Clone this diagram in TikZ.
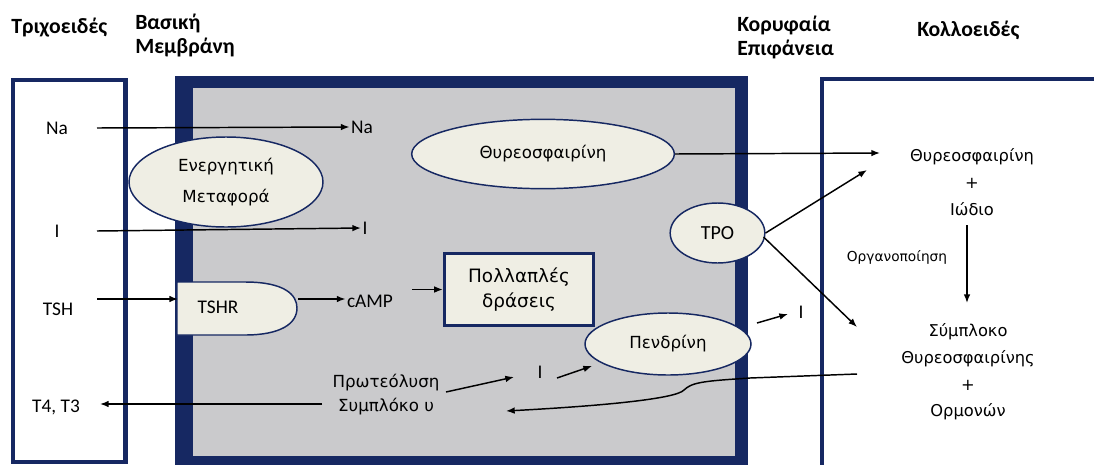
\documentclass[tikz,border=0pt]{standalone}
\usepackage{fontspec}
\setmainfont{Carlito}
\newfontfamily\dv{DejaVu Sans}
\usetikzlibrary{arrows.meta,shapes.geometric}
\definecolor{navy}{RGB}{22,40,98}
\definecolor{cellgray}{RGB}{202,202,204}
\definecolor{ivory}{RGB}{239,238,228}
\begin{document}
\begin{tikzpicture}[x=0.75pt,y=-0.75pt,
  arr/.style={line width=1.1pt,-{Latex[length=6.5pt,width=5pt]}},
  oval/.style={ellipse,draw=navy,line width=1.1pt,fill=ivory,inner sep=0pt,align=center,font=\dv\fontsize{12.5}{23}\selectfont},
  lbl/.style={inner sep=1pt,font=\fontsize{14.5}{17}\selectfont},
  hdr/.style={inner sep=0pt,anchor=west,align=left,font=\bfseries\fontsize{16.3}{18}\selectfont},
  rtxt/.style={inner sep=0pt,align=center,font=\dv\fontsize{12.2}{20}\selectfont},
  mtxt/.style={inner sep=1pt,align=center,font=\dv\fontsize{12.5}{18}\selectfont}]
\useasboundingbox (0,0) rectangle (1094,464);
\clip (0,0) rectangle (1094,464);
% headers
\node[hdr] (h1) at (11,28) {Τριχοειδές};
\node[hdr] (h2) at (135,35) {Βασική\\Μεμβράνη};
\node[hdr] (h3) at (737,37) {Κορυφαία\\Επιφάνεια};
\node[hdr] (h4) at (917,30) {Κολλοειδές};
% boxes
\draw[navy,line width=3.5pt] (13,80) rectangle (125.5,462);
\fill[navy] (175,76) rectangle (748,470);
\fill[cellgray] (193,88) rectangle (735,456);
\draw[navy,line width=3.5pt] (822,79) rectangle (1110,470);
\coordinate (lx) at (97,0);
% left labels
\node[lbl] (na1) at (57,128) {Na};
\node[lbl] (na2) at (362,127) {Na};
\node[lbl] (i1) at (57,231) {I};
\node[lbl] (i2) at (365,228) {I};
\node[lbl] (tsh) at (58,309) {TSH};
\node[lbl] (t43) at (56,407) {T4, T3};
% ellipses
\node[oval,minimum width=145.5pt,minimum height=67.5pt] (ener) at (226,182) {Ενεργητική\\Μεταφορά};
\node[oval,minimum width=197pt,minimum height=52pt] (thyro) at (543,154) {Θυρεοσφαιρίνη};
\node[oval,font=\fontsize{15}{18}\selectfont,minimum width=71pt,minimum height=45pt] (tpo) at (717.5,233) {TPO};
\node[oval,minimum width=124.5pt,minimum height=46.5pt] (pend) at (668,344) {Πενδρίνη};
% TSHR shape
\draw[navy,line width=1.1pt,fill=ivory] (177,282) -- (245,282) .. controls (285,282) and (297,295) .. (297,308) .. controls (297,324) and (280,335) .. (245,335) -- (177,335) -- cycle;
\node[lbl] (tshr) at (218,307) {TSHR};
\coordinate (tshrL) at (178,299);
\coordinate (tshrR) at (298,299);
\node[lbl] (camp) at (370,301) {cAMP};
\coordinate (cx) at (412,0);
\node[draw=navy,line width=2.2pt,fill=ivory,minimum width=112pt,minimum height=54pt,align=center,inner sep=0pt,font=\dv\fontsize{13.8}{19}\selectfont] (multi) at (519,289.5) {Πολλαπλές\\δράσεις};
% arrows middle
\draw[arr] (na1 -| lx) -- (na2.west);
\draw[arr] (i1 -| lx) -- (i2.west);
\draw[arr] (tshrL -| lx) -- (tshrL);
\draw[arr] (tshrR) -- (camp.west |- tshrR);
\draw[arr] (multi.west -| cx) -- (multi.west);
% lower middle
\node[mtxt] (prot) at (386,395) {Πρωτεόλυση\\Συμπλόκο υ};
\node[lbl] (i3) at (540,372) {I};
\node[lbl] (i4) at (801,312) {I};
\coordinate (p1) at (446,392);
\coordinate (p2) at (514,377);
\coordinate (p3) at (557,378);
\coordinate (p4) at (592,366);
\coordinate (p5) at (757,323);
\coordinate (p6) at (788,314);
\coordinate (p7) at (322,404);
\coordinate (p8) at (100,404);
\draw[arr] (p1) -- (p2);
\draw[arr] (p3) -- (p4);
\draw[arr] (p5) -- (p6);
\draw[arr] (p7) -- (p8);
% right side
\node[rtxt] (thyr2) at (972,182) {Θυρεοσφαιρίνη\\+\\Ιώδιο};
\node[rtxt] (compl) at (968,372) {Σύμπλοκο\\Θυρεοσφαιρίνης\\+\\Ορμονών};
\coordinate (a1) at (880,153);
\coordinate (a2) at (867,170);
\coordinate (a3) at (857,327);
\coordinate (v1) at (967,225);
\coordinate (v2) at (967,303);
\coordinate (c0) at (857,374);
\coordinate (c1) at (506,411);
\draw[arr] (thyro.east) -- (a1);
\draw[arr] (tpo.east) -- (a2);
\draw[arr] (tpo.east) ++(-2,4) coordinate (te) (te) -- (a3);
\draw[arr] (v1) -- (v2);
\node[inner sep=0pt,font=\dv\fontsize{10.3}{11}\selectfont] (org) at (897,257) {Οργανοποίηση};
\draw[arr] (c0) -- (750,378) .. controls (705,381) and (692,382) .. (684,390) .. controls (676,399) and (600,406) .. (c1);
\end{tikzpicture}
\end{document}
